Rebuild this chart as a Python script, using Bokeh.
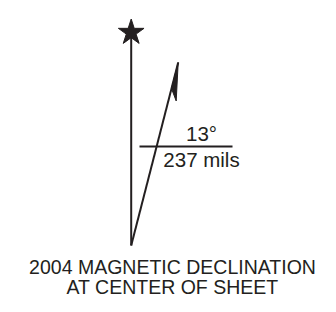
import math
from bokeh.plotting import figure
from bokeh.models import Range1d
from bokeh.core.properties import value
from bokeh.embed import file_html
from bokeh.resources import INLINE

# ---- data ----
year = [2004]
declination_deg = [13]
declination_mils = [237]
caption_lines = ["%d MAGNETIC DECLINATION" % year[0], "AT CENTER OF SHEET"]

# ---- layout (picture coordinates, y down) ----
INK = "#231f20"
FONT = "Liberation Sans"
TEXT_DY = -8  # compensation for svg baseline placement
origin = (130.7, 245.0)
true_len = 213.0
mag_len = 189.0
mag_draw_angle = 14.4  # exaggerated drawing angle

p = figure(width=320, height=296, output_backend="svg", toolbar_location=None,
           x_range=Range1d(0, 320), y_range=Range1d(296, 0), min_border=0)
p.axis.visible = False
p.grid.visible = False
p.outline_line_color = None
p.background_fill_color = "white"
p.border_fill_color = "white"

ox, oy = origin
# true north with star
p.line([ox, ox], [oy, oy - true_len], line_color=INK, line_width=2)
p.scatter([ox], [oy - true_len], marker="star", size=27, fill_color=INK, line_color=INK)

# magnetic north
a = math.radians(mag_draw_angle)
tx, ty = ox + mag_len * math.sin(a), oy - mag_len * math.cos(a)
p.line([ox, tx], [oy, ty], line_color=INK, line_width=2)
def along(d):
    return ox + (mag_len - d) * math.sin(a), oy - (mag_len - d) * math.cos(a)
bx, by = along(27)
p.patch([tx, tx - 2.0, bx], [ty, ty + 38.5, by], fill_color=INK, line_color=INK, line_width=1)

# angle label bar
p.line([139, 232], [146, 146], line_color=INK, line_width=2)
p.text([201], [141 + TEXT_DY], text=["%d°" % declination_deg[0]], text_font=value(FONT),
       text_font_size="20.5px", text_align="center", text_baseline="alphabetic", text_color=INK)
p.text([201], [166.5 + TEXT_DY], text=["%d mils" % declination_mils[0]], text_font=value(FONT),
       text_font_size="20.5px", text_align="center", text_baseline="alphabetic", text_color=INK)

# caption
p.text([172, 172], [274 + TEXT_DY, 294 + TEXT_DY], text=caption_lines, text_font=value(FONT),
       text_font_size="19.5px", text_align="center", text_baseline="alphabetic", text_color=INK)

open("out.html", "w").write(file_html(p, INLINE))
